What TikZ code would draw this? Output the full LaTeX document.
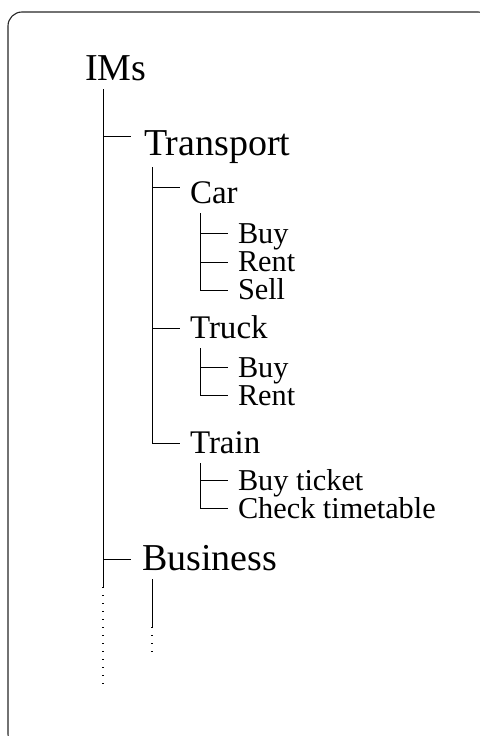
\documentclass[tikz,border=0pt]{standalone}
\usepackage{fontspec}
\setmainfont{Liberation Serif}
\begin{document}
\begin{tikzpicture}[x=1bp,y=-1bp,
  lbl/.style={anchor=base west,inner sep=0pt,outer sep=0pt},
  lvA/.style={lbl,font=\fontsize{38bp}{38bp}\selectfont},
  lvB/.style={lbl,font=\fontsize{33bp}{33bp}\selectfont},
  lvC/.style={lbl,font=\fontsize{30.3bp}{30bp}\selectfont},
  tree/.style={line width=0.9bp,black},
  dots/.style={line width=1.2bp,black,dash pattern=on 1.3bp off 6.7bp},
  frame/.style={line width=1.1bp,black!85,rounded corners=14bp}]
\useasboundingbox (0,0) rectangle (480,736);
\draw[frame] (8,12) rectangle (492,748);

% labels
\node[lvA] (ims) at (85,80) {IMs};
\node[lvA] (transport) at (144,155) {Transport};
\node[lvB] (car) at (190,203) {Car};
\node[lvC] (carbuy) at (238,243) {Buy};
\node[lvC] (carrent) at (238,271) {Rent};
\node[lvC] (carsell) at (238,299) {Sell};
\node[lvB] (truck) at (190,338) {Truck};
\node[lvC] (truckbuy) at (238,377) {Buy};
\node[lvC] (truckrent) at (238,405) {Rent};
\node[lvB] (train) at (190,453) {Train};
\node[lvC] (trainbuy) at (238,490) {Buy ticket};
\node[lvC] (traincheck) at (238,518) {Check timetable};
\node[lvA] (business) at (142,570) {Business};

% branch start points
\coordinate (ims-down) at (103,89);
\coordinate (transport-down) at (152,167);
\coordinate (car-down) at (200,213);
\coordinate (truck-down) at (200,348);
\coordinate (train-down) at (200,463);
\coordinate (business-down) at (152,579);
% tick ends
\coordinate (transport-in) at (131,136);
\coordinate (business-in) at (131,559);
\coordinate (car-in) at (180,187);
\coordinate (truck-in) at (180,328);
\coordinate (train-in) at (180,443);
\coordinate (carbuy-in) at (228,233);
\coordinate (carrent-in) at (228,262);
\coordinate (carsell-in) at (228,290);
\coordinate (truckbuy-in) at (228,367);
\coordinate (truckrent-in) at (228,395);
\coordinate (trainbuy-in) at (228,480);
\coordinate (traincheck-in) at (228,508);
% continuation ends
\coordinate (ims-solid) at (103,587);
\coordinate (ims-end) at (103,687);
\coordinate (business-solid) at (152,627);
\coordinate (business-end) at (152,655);

% trunk
\draw[tree] (ims-down) -- (ims-solid);
\draw[dots] (ims-solid) -- (ims-end);
\draw[tree] (ims-down |- transport-in) -- (transport-in);
\draw[tree] (ims-down |- business-in) -- (business-in);
% transport
\draw[tree] (transport-down) |- (train-in);
\draw[tree] (transport-down |- car-in) -- (car-in);
\draw[tree] (transport-down |- truck-in) -- (truck-in);
% car
\draw[tree] (car-down) |- (carsell-in);
\draw[tree] (car-down |- carbuy-in) -- (carbuy-in);
\draw[tree] (car-down |- carrent-in) -- (carrent-in);
% truck
\draw[tree] (truck-down) |- (truckrent-in);
\draw[tree] (truck-down |- truckbuy-in) -- (truckbuy-in);
% train
\draw[tree] (train-down) |- (traincheck-in);
\draw[tree] (train-down |- trainbuy-in) -- (trainbuy-in);
% business
\draw[tree] (business-down) -- (business-solid);
\draw[dots] (business-solid) -- (business-end);
\end{tikzpicture}
\end{document}
